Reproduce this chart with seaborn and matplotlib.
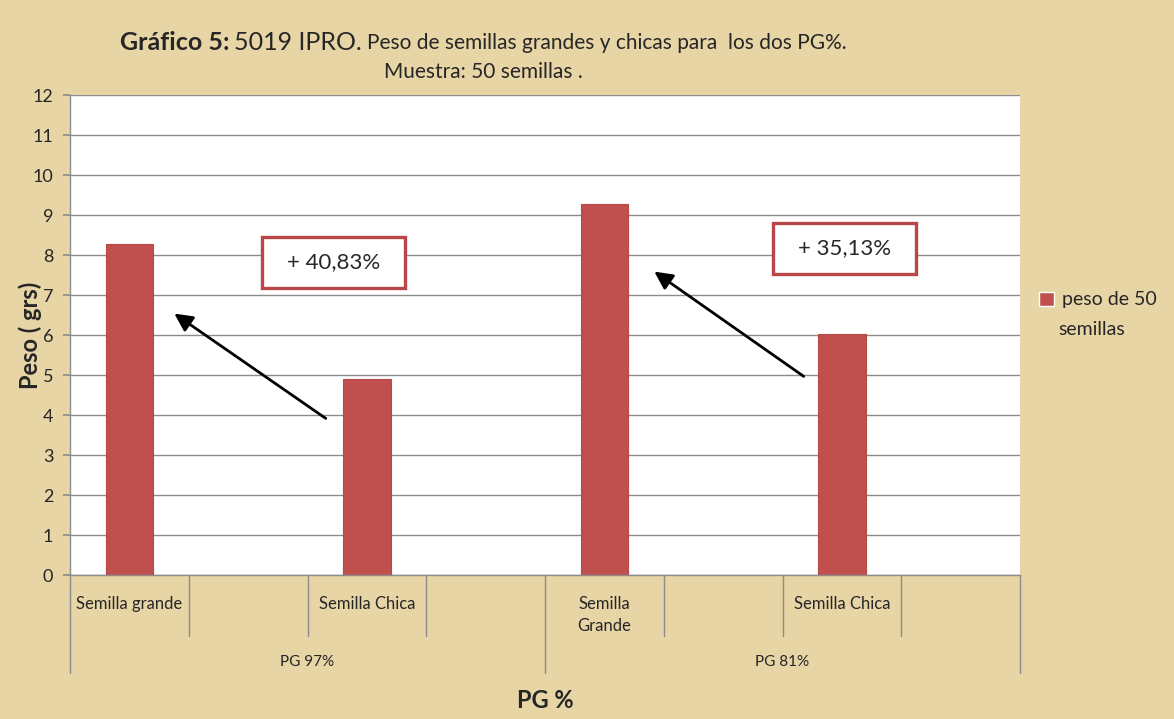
import numpy as np
import pandas as pd
import matplotlib.pyplot as plt
import seaborn as sns
from matplotlib.patches import Rectangle, Patch
from matplotlib.transforms import blended_transform_factory

# slots in the excel chart: one bar every other slot
slot_labels = ["Semilla grande", "", "Semilla Chica", "", "Semilla\nGrande", "", "Semilla Chica", ""]
peso = [8.28, np.nan, 4.9, np.nan, 9.28, np.nan, 6.03, np.nan]
group_labels = ["PG 97%", "PG 81%"]
y_ticks = list(range(0, 13))
series_name = "peso de 50\nsemillas"
box_texts = ["+ 40,83%", "+ 35,13%"]

bar_color = "#C0504D"
bg_color = "#E8D5A5"

sns.set_theme(style="white")
plt.rcParams['font.family'] = ['Lato', 'DejaVu Sans']

df = pd.DataFrame({"slot": list(range(len(slot_labels))), "peso": peso})

fig = plt.figure(figsize=(11.74, 7.19), dpi=100)
fig.patch.set_facecolor(bg_color)
ax = fig.add_axes([70 / 1174, 144 / 719, 950 / 1174, 480 / 719])
ax.set_facecolor("white")

sns.barplot(data=df, x="slot", y="peso", order=list(range(len(slot_labels))),
            color=bar_color, saturation=1, width=0.4, ax=ax, errorbar=None,
            edgecolor="#B84845", linewidth=0.8)

ax.set_ylim(0, 12)
ax.set_xlim(-0.5, len(slot_labels) - 0.5)
ax.set_yticks(y_ticks)
ax.yaxis.grid(True, color="#8c8c8c", linewidth=1)
ax.set_axisbelow(True)
for s in ["top", "right"]:
    ax.spines[s].set_visible(False)
for s in ["left", "bottom"]:
    ax.spines[s].set_color("#8c8c8c")
    ax.spines[s].set_linewidth(1)
ax.tick_params(axis="y", length=5, color="#8c8c8c", labelsize=13, pad=7, left=True)
ax.tick_params(axis="x", length=0, labelsize=12, pad=15)
ax.set_xticks(range(len(slot_labels)))
ax.set_xticklabels(slot_labels, va="top", linespacing=1.45)
ax.set_xlabel("")
ax.set_ylabel("")

# category separators and group separators under the axis
trans = blended_transform_factory(ax.transData, ax.transAxes)
for i in range(len(slot_labels) + 1):
    xpos = i - 0.5
    long_line = i % 4 == 0
    ax.plot([xpos, xpos], [0, -0.204 if long_line else -0.127], color="#8c8c8c",
            linewidth=1, transform=trans, clip_on=False)
for g, lab in enumerate(group_labels):
    ax.text(g * 4 + 1.5, -0.181, lab, transform=trans, ha="center", va="center", fontsize=11)

# boxes with percentage increase
boxes = [(1.117, 7.175), (5.42, 7.525)]
for (bx, by), txt in zip(boxes, box_texts):
    ax.add_patch(Rectangle((bx, by), 1.204, 1.275, facecolor="white", edgecolor="#B9474A",
                           linewidth=2.4, zorder=5))
    ax.text(bx + 0.602, by + 0.6375, txt, ha="center", va="center", fontsize=16, zorder=6)

# arrows from small to large seed
arrows = [((1.673, 3.875), (0.359, 6.575)), ((5.698, 4.925), (4.401, 7.625))]
for start, end in arrows:
    ax.annotate("", xy=end, xytext=start,
                arrowprops=dict(arrowstyle="-|>,head_length=0.9,head_width=0.45",
                                color="black", lw=2), zorder=6)

# axis titles
fig.text(30 / 1174, 1 - 335 / 719, "Peso ( grs)", rotation=90, ha="center", va="center",
         fontsize=17, fontweight="bold")
fig.text(545 / 1174, 1 - 700 / 719, "PG %", ha="center", va="center", fontsize=17,
         fontweight="bold")

# title made of a bold part and a regular part
t1 = fig.text(120 / 1174, 1 - 42 / 719, "Gráfico 5:", ha="left", va="center",
              fontsize=18, fontweight="bold")
fig.canvas.draw()
bb = t1.get_window_extent()
t2 = fig.text(bb.x1 / fig.bbox.width + 0.004, 1 - 42 / 719, "5019 IPRO.", ha="left",
              va="center", fontsize=18)
fig.canvas.draw()
bb = t2.get_window_extent()
fig.text(bb.x1 / fig.bbox.width + 0.004, 1 - 43 / 719,
         "Peso de semillas grandes y chicas para  los dos PG%.", ha="left", va="center",
         fontsize=15)
fig.text(483 / 1174, 1 - 72 / 719, "Muestra: 50 semillas .", ha="center", va="center",
         fontsize=15)

# legend: handle beside the first line of the series name, as in excel
first, second = series_name.split("\n")
fig.legend(handles=[Patch(facecolor=bar_color, label=first)], loc="center left",
           bbox_to_anchor=(1039 / 1174, 1 - 300 / 719), frameon=False, fontsize=14,
           handlelength=0.75, handleheight=0.75, handletextpad=0.45, borderpad=0,
           borderaxespad=0)
fig.text(1058 / 1174, 1 - 330 / 719, second, ha="left", va="center", fontsize=14)

fig.savefig("out.png", dpi=100, facecolor=bg_color)
